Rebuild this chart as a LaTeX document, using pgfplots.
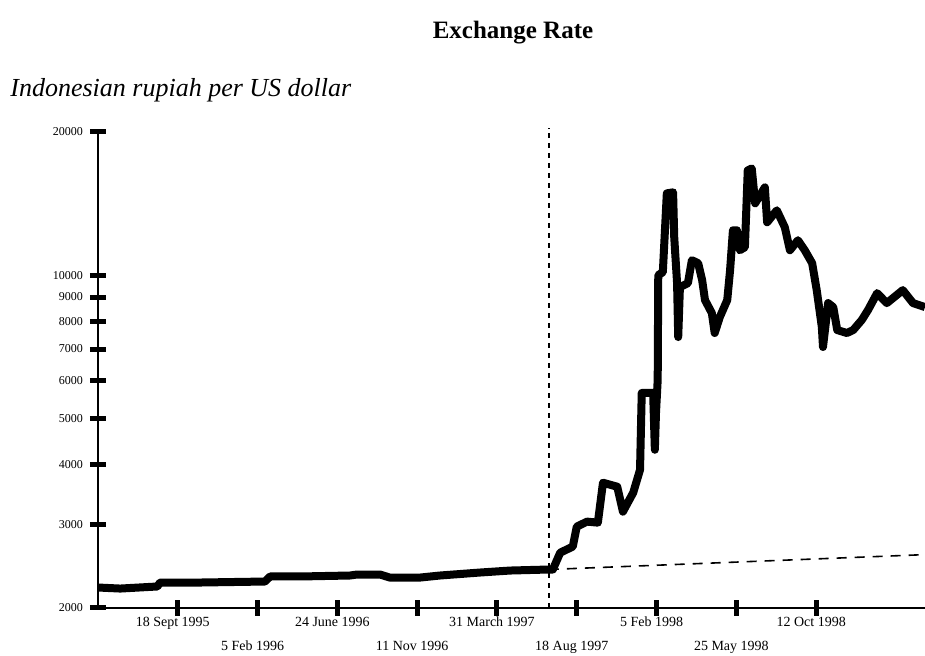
\documentclass[border=0pt]{standalone}
\usepackage{fontspec}
\setmainfont{Liberation Serif}
\usepackage{pgfplots}
\pgfplotsset{compat=1.18}

% x = days since 1 May 1995, y = rupiah per US dollar
\begin{document}
\begin{tikzpicture}
\useasboundingbox (-49pt,-23.5pt) rectangle (413.5pt,304pt);
\begin{axis}[
    at={(0,0)}, anchor=south west,
    scale only axis, width=413.5pt, height=238pt,
    ymode=log,
    xmin=0, xmax=1451, ymin=2000, ymax=20000,
    axis x line=bottom, axis y line=left,
    axis line style={line width=1pt, -},
    xtick={140,280,420,560,700,840,980,1120,1260},
    xticklabels={18 Sept 1995, {\\[8.5pt]5 Feb 1996}, 24 June 1996, {\\[8.5pt]11 Nov 1996},
        31 March 1997, {\\[8.5pt]18 Aug 1997}, 5 Feb 1998, {\\[8.5pt]25 May 1998}, 12 Oct 1998},
    ytick={2000,3000,4000,5000,6000,7000,8000,9000,10000,20000},
    yticklabels={2000,3000,4000,5000,6000,7000,8000,9000,10000,20000},
    yminorticks=false, xminorticks=false,
    tick align=center, major tick length=8pt,
    tick style={line width=2.5pt, black},
    xticklabel style={font=\fontsize{7}{8.4}\selectfont, align=center, yshift=3pt, xshift=-2.5pt},
    yticklabel style={font=\fontsize{6}{7}\selectfont},
    clip=false,
]
\addplot[black, line width=4pt, line join=round] coordinates {
(0,2208) (39,2197) (104,2219) (109,2262) (179,2262) (293,2273) (302,2329) (354,2329)
(442,2340) (454,2351) (495,2351) (512,2317) (565,2317) (600,2340) (670,2374) (723,2397)
(791,2409) (798,2409) (811,2614) (833,2691) (840,2964) (858,3037) (877,3022) (886,3666)
(911,3596) (921,3187) (939,3493) (951,3903) (954,5660) (974,5660) (977,4299) (979,5138)
(982,6027) (983,10004) (991,10150) (998,14863) (1009,14935) (1011,12018) (1016,9625)
(1018,7418) (1021,9441) (1035,9625) (1042,10755) (1053,10601) (1060,9766) (1065,8868)
(1077,8329) (1082,7563) (1091,8170) (1104,8868) (1109,10249) (1114,12431) (1121,12431)
(1126,11287) (1135,11452) (1140,16607) (1147,16768) (1153,14162) (1170,15299) (1174,12920)
(1191,13692) (1205,12613) (1214,11287) (1228,11846) (1240,11287) (1253,10601) (1261,9306)
(1270,7785) (1272,7068) (1281,8740) (1290,8573) (1297,7673) (1314,7563) (1325,7673)
(1340,8052) (1351,8450) (1367,9172) (1384,8740) (1412,9306) (1430,8740) (1451,8573)
};
% trend before the crisis, continued
\addplot[black, line width=0.8pt, dash pattern=on 5pt off 4pt] coordinates {(791,2409) (1451,2589)};
% start of the crisis
\addplot[black, line width=0.8pt, dash pattern=on 2.5pt off 2.5pt] coordinates {(791,2000) (791,20400)};
\end{axis}
\node[font=\bfseries\fontsize{12.5}{15}\selectfont] at (207.5pt,287.5pt) {Exchange Rate};
\node[anchor=west, inner sep=0pt, font=\itshape\fontsize{13}{15}\selectfont] at (-44pt,259pt) {Indonesian rupiah per US dollar};
\end{tikzpicture}
\end{document}
